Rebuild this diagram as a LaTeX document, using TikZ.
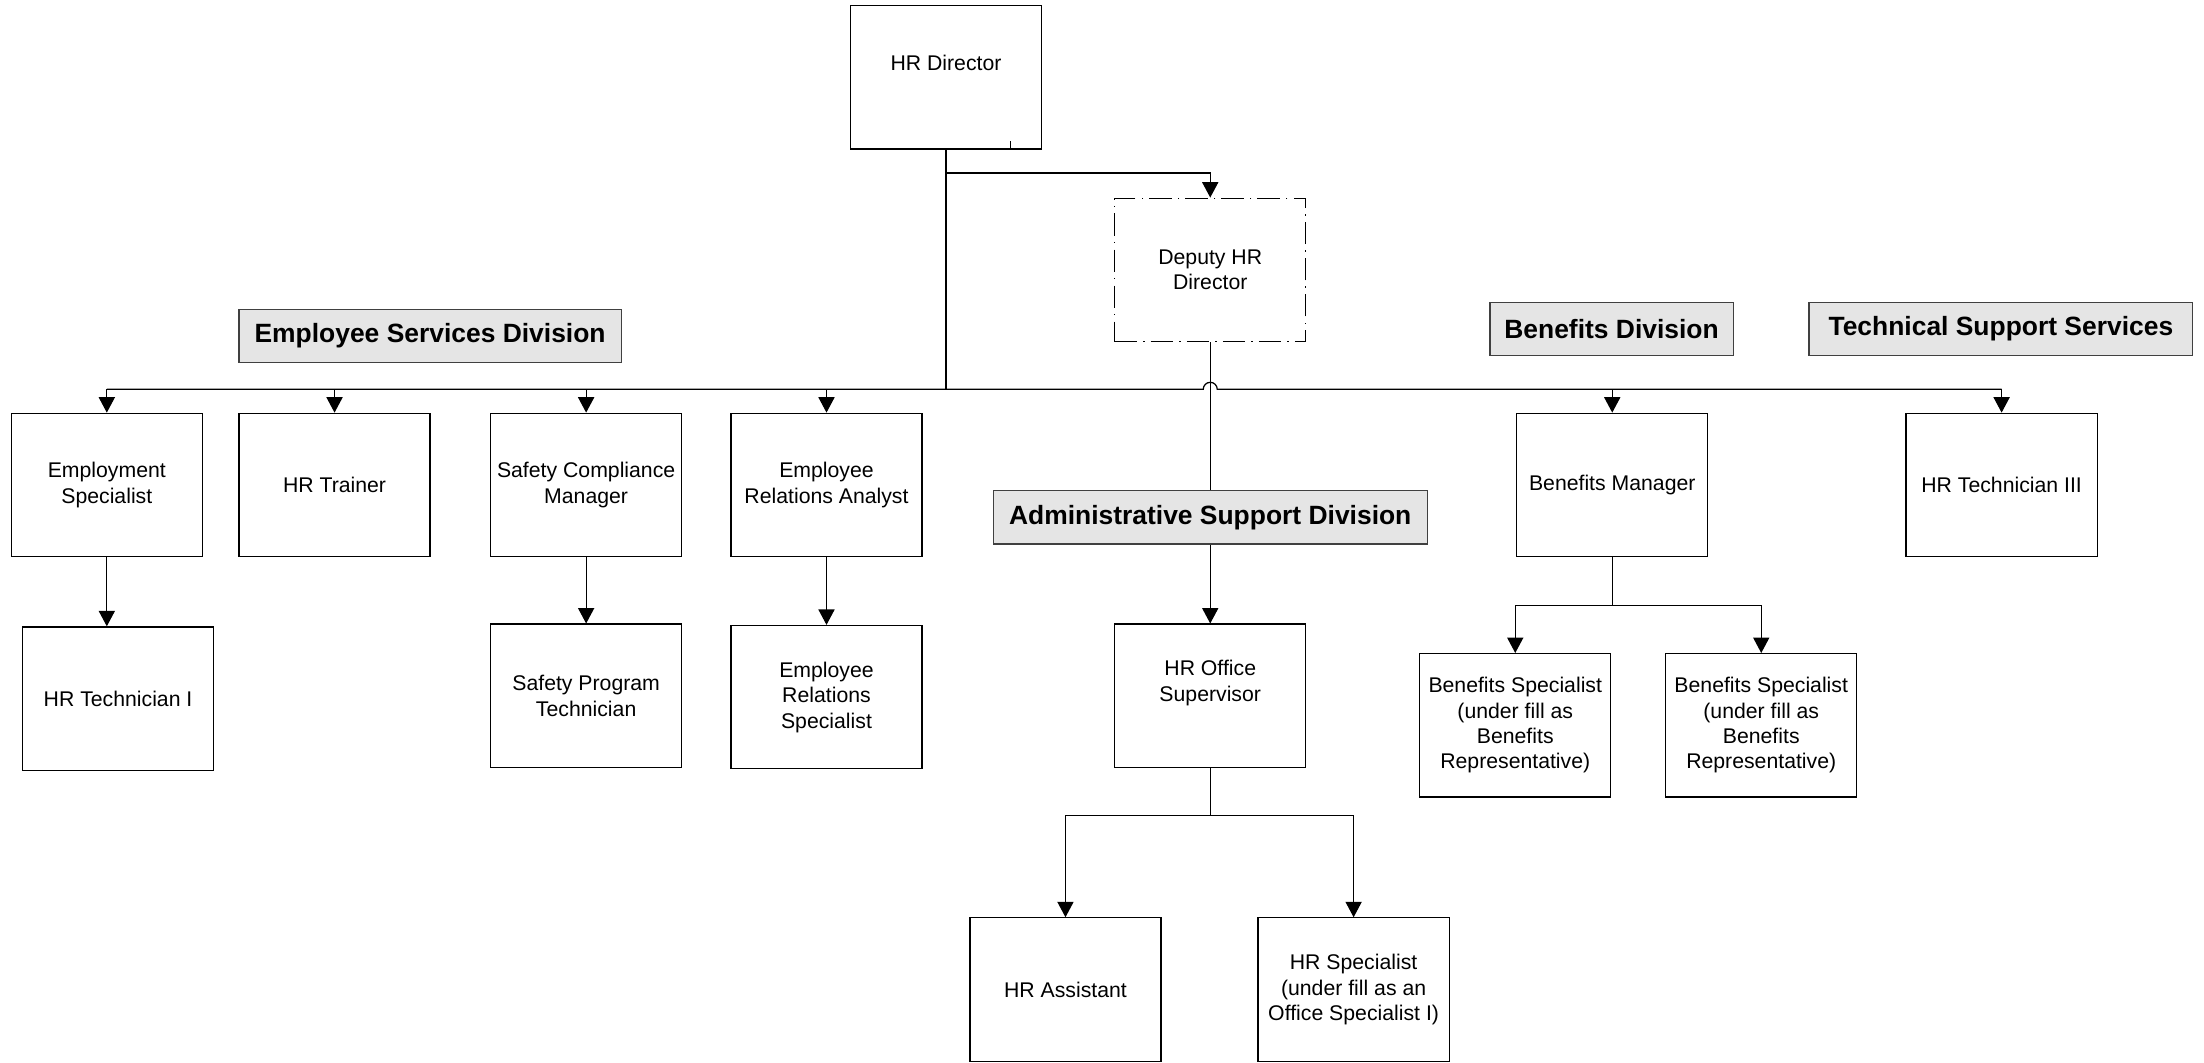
\documentclass[tikz,border=0pt]{standalone}
\usepackage{fontspec}
\setmainfont{Liberation Sans}
\usetikzlibrary{arrows.meta}

\begin{document}
\begin{tikzpicture}[
	x=0.02cm, y=-0.02cm,
	% one box for every post
	post/.style={draw, line width=0.5pt, minimum width=2.72cm, minimum height=2.04cm,
		align=center, inner sep=1pt, font=\fontsize{8.6}{10.3}\selectfont},
	raised/.style={text depth=12pt},
	vacant/.style={dash pattern=on 9pt off 2.5pt on 0.6pt off 2.5pt},
	% grey titles of the divisions
	division/.style={draw=black!75, fill=black!10, line width=0.5pt, minimum height=0.76cm,
		inner xsep=0pt, font=\fontsize{10.7}{12.8}\selectfont\bfseries},
	link/.style={line width=0.5pt},
	arrow/.style={link, -{Triangle[width=0.23cm, length=0.22cm]}}
	]
	\useasboundingbox (0,0) rectangle (1568,756);

	% top of the chart
	\node[post, raised] (director) at (673,55) {HR Director};
	\node[post, vacant] (deputy) at (861,192) {Deputy HR\\Director};

	% division titles
	\node[division, minimum width=5.44cm] (esd) at (306,239) {Employee Services Division};
	\node[division, minimum width=3.46cm] (bend) at (1146.5,234) {Benefits Division};
	\node[division, minimum width=5.46cm] (tss) at (1423.5,234) {Technical Support Services};
	\node[division, minimum width=6.18cm] (asd) at (861,368) {Administrative Support Division};

	% first row
	\node[post] (empspec) at (76,345) {Employment\\Specialist};
	\node[post] (trainer) at (238,345) {HR Trainer};
	\node[post] (safetymgr) at (417,345) {Safety Compliance\\Manager};
	\node[post] (relanalyst) at (588,345) {Employee\\Relations Analyst};
	\node[post] (benmgr) at (1147,345) {Benefits Manager};
	\node[post] (techiii) at (1424,345) {HR Technician III};

	% second row
	\node[post] (techi) at (84,497) {HR Technician I};
	\node[post] (safetytech) at (417,495) {Safety Program\\Technician};
	\node[post] (relspec) at (588,496) {Employee\\Relations\\Specialist};
	\node[post, raised] (officesup) at (861,495) {HR Office\\Supervisor};
	\node[post] (benspec1) at (1078,516) {Benefits Specialist\\(under fill as\\Benefits\\Representative)};
	\node[post] (benspec2) at (1253,516) {Benefits Specialist\\(under fill as\\Benefits\\Representative)};

	% third row
	\node[post] (assistant) at (758,704) {HR Assistant};
	\node[post] (hrspec) at (963,704) {HR Specialist\\(under fill as an\\Office Specialist I)};

	\coordinate (busL) at (76,277);
	\coordinate (busR) at (1424,277);
	\coordinate (hopL) at (856,277);
	\coordinate (split) at (673,123);
	\coordinate (benfork) at (1147,431);
	\coordinate (officefork) at (861,580);

	% the bus with a jump over the deputy line
	\draw[link] (busL) -- (hopL) arc[start angle=180, end angle=0, radius=0.1cm] -- (busR);
	\draw[link] (director.south) -- (director.south |- busL);
	\draw[link] (director.south) -- ++(46,0) -- ++(0,-6);
	\draw[arrow] (split) -| (deputy.north);
	\foreach \n in {empspec,trainer,safetymgr,relanalyst,benmgr,techiii}
		\draw[arrow] (\n.north |- busL) -- (\n.north);

	\draw[link] (deputy.south) -- (asd.north);
	\draw[arrow] (asd.south) -- (officesup.north);

	\draw[arrow] (empspec.south) -- (empspec.south |- techi.north);
	\draw[arrow] (safetymgr.south) -- (safetytech.north);
	\draw[arrow] (relanalyst.south) -- (relspec.north);

	\draw[link] (benmgr.south) -- (benfork);
	\draw[arrow] (benfork) -| (benspec1.north);
	\draw[arrow] (benfork) -| (benspec2.north);

	\draw[link] (officesup.south) -- (officefork);
	\draw[arrow] (officefork) -| (assistant.north);
	\draw[arrow] (officefork) -| (hrspec.north);
\end{tikzpicture}
\end{document}
